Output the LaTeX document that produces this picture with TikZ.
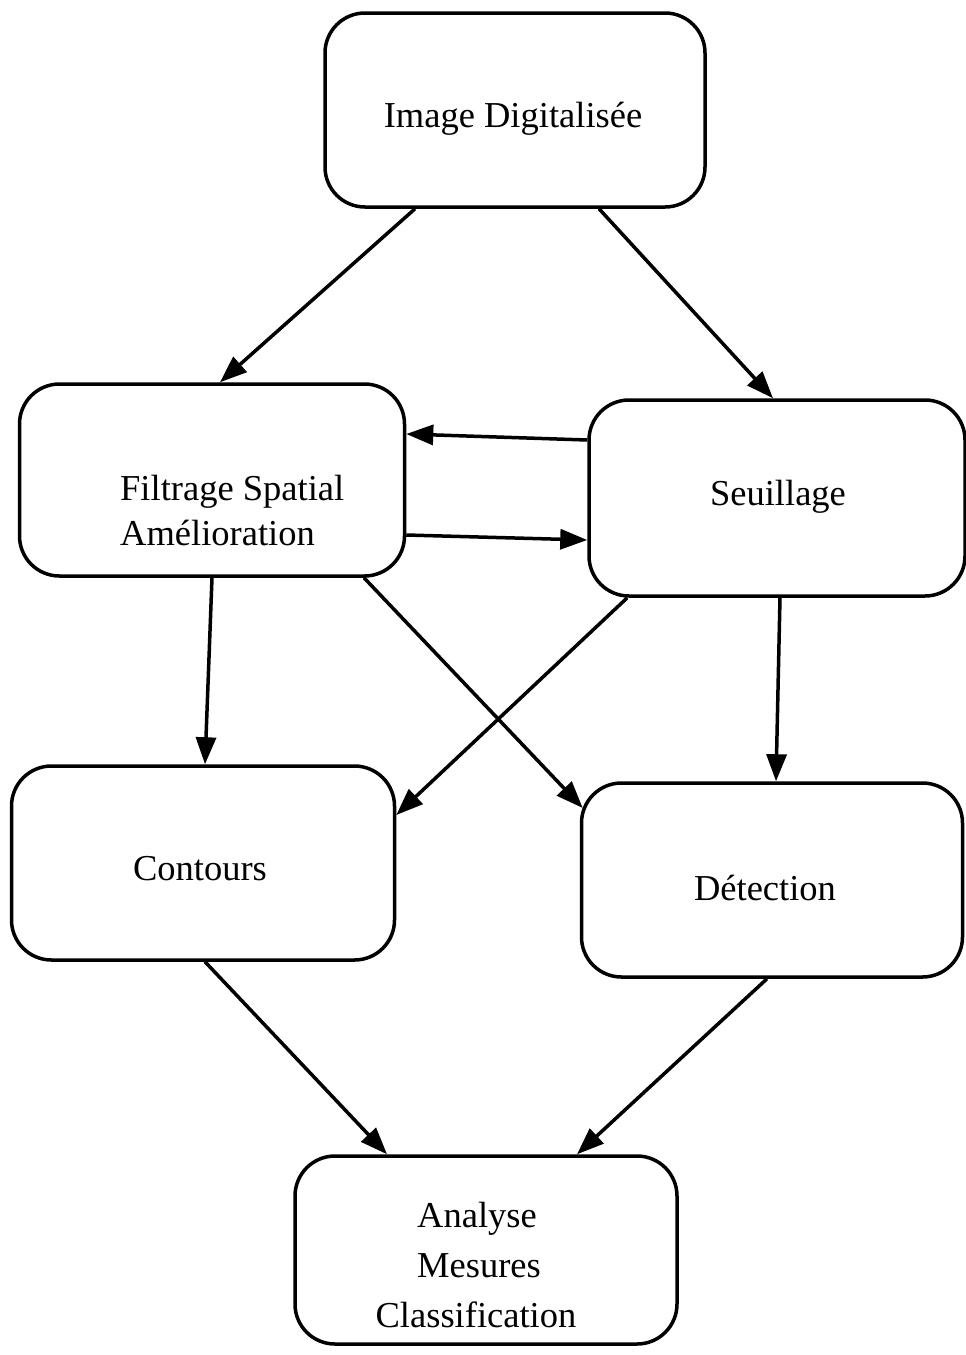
\documentclass[tikz,border=0pt]{standalone}
\usepackage{fontspec}
\setmainfont{Liberation Serif}
\usetikzlibrary{arrows.meta,calc}
\begin{document}
\begin{tikzpicture}[x=1pt,y=-1pt,
  box/.style={draw,line width=3.5pt,rounded corners=40pt,inner sep=0pt,shape=rectangle},
  lbl/.style={font=\fontsize{36.5}{44}\selectfont,inner sep=0pt},
  arr/.style={line width=3.5pt,-{Triangle[length=27pt,width=20pt]}}]
\useasboundingbox[fill=white] (0,0) rectangle (966,1355);
% boxes
\node[box,minimum width=380pt,minimum height=194pt] (img) at (515,110) {};
\node[box,minimum width=385pt,minimum height=192pt] (fil) at (212,480) {};
\node[box,minimum width=376pt,minimum height=196pt] (seu) at (777,498) {};
\node[box,minimum width=383pt,minimum height=194pt] (con) at (203,863) {};
\node[box,minimum width=381pt,minimum height=194pt] (det) at (772,880) {};
\node[box,minimum width=382pt,minimum height=188pt] (ana) at (486,1250) {};
% texts
\node[lbl,anchor=base] (timg) at (513,127) {Image Digitalisée};
\node[lbl,anchor=base west] (tfil1) at (120,500) {Filtrage Spatial};
\node[lbl,anchor=base west] (tfil2) at (120,545) {Amélioration};
\node[lbl,anchor=base] (tseu) at (778,505) {Seuillage};
\node[lbl,anchor=base] (tcon) at (200,880) {Contours};
\node[lbl,anchor=base] (tdet) at (765,900) {Détection};
\node[lbl,anchor=base] (tana1) at (477,1227) {Analyse};
\node[lbl,anchor=base] (tana2) at (479,1277) {Mesures};
\node[lbl,anchor=base] (tana3) at (476,1327) {Classification};
% connectors
\draw[arr] ($(img.south)+(-100,0)$) -- ($(fil.north)+(8,0)$);
\draw[arr] ($(img.south)+(84,0)$) -- ($(seu.north)+(-4,0)$);
\draw[arr] ($(seu.west)+(0,-58)$) -- ($(fil.east)+(0,-46)$);
\draw[arr] ($(fil.east)+(0,55)$) -- ($(seu.west)+(0,42)$);
\draw[arr] (fil.south) -- ($(con.north)+(2,0)$);
\draw[arr] ($(fil.south)+(152,0)$) -- ($(det.west)+(3,-72)$);
\draw[arr] ($(seu.south west)+(40,0)$) -- ($(con.east)+(0,-48)$);
\draw[arr] ($(seu.south)+(3,0)$) -- ($(det.north)+(4,0)$);
\draw[arr] ($(con.south)+(2,0)$) -- ($(ana.north)+(-99,0)$);
\draw[arr] ($(det.south)+(-5,0)$) -- ($(ana.north)+(91,0)$);
\end{tikzpicture}
\end{document}
